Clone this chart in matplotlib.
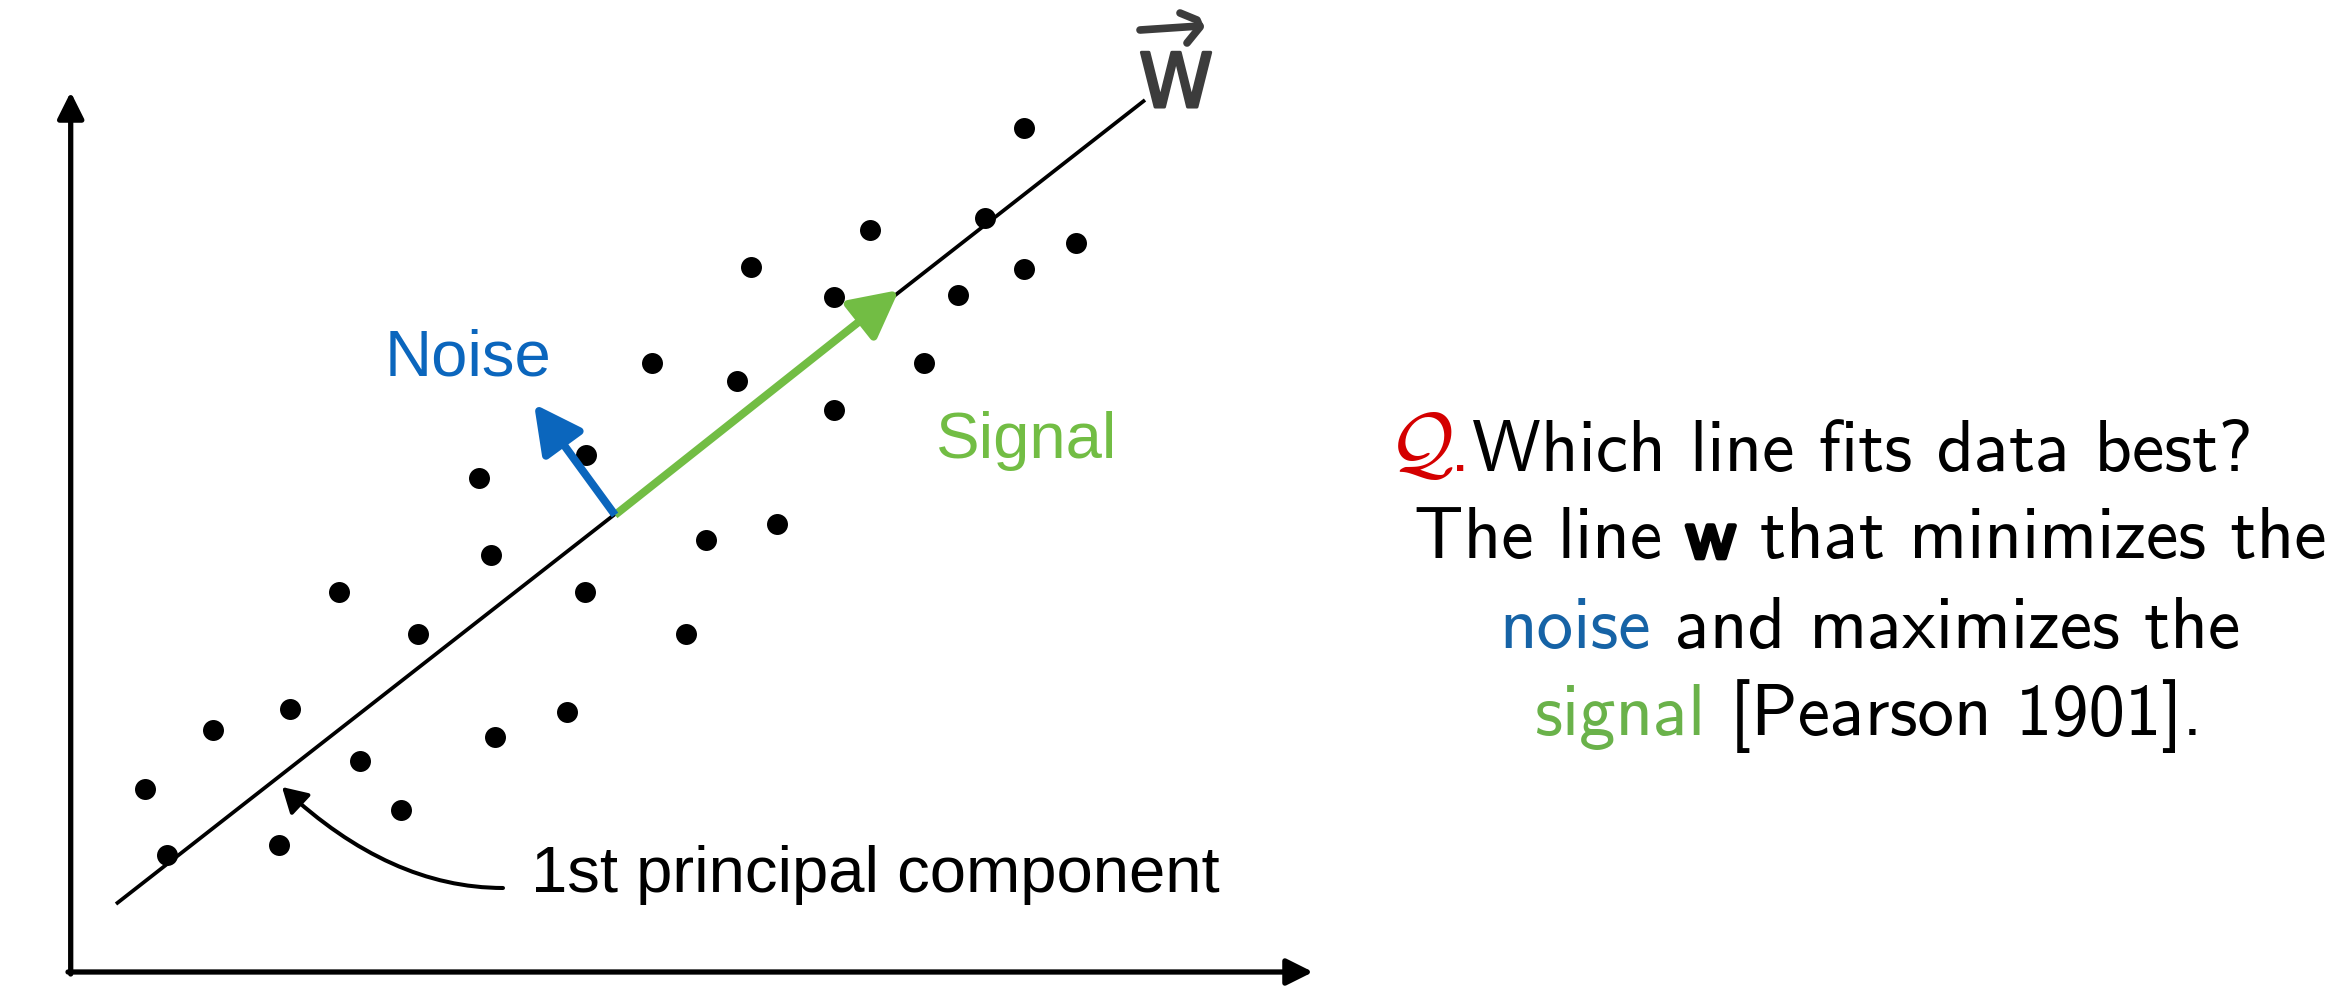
import matplotlib
matplotlib.use("Agg")
import matplotlib.pyplot as plt
from matplotlib.patches import FancyArrowPatch
from matplotlib.path import Path
import matplotlib.patheffects as pe

plt.rcParams['mathtext.fontset'] = 'cm'

# ---------------- data (image-pixel coordinates, y down) ----------------
pts_x = [1024, 870, 985, 1076, 1024, 751, 834, 958, 652, 737, 924, 834, 586, 479, 491,
         706, 777, 339, 585, 418, 686, 213, 290, 495, 567, 360, 145, 401, 167, 279]
pts_y = [128, 230, 218, 243, 269, 267, 297, 295, 363, 381, 363, 410, 455, 478, 555,
         540, 524, 592, 592, 634, 634, 730, 709, 737, 712, 761, 789, 810, 855, 845]

pc_x = [116, 1145]          # 1st principal component line ends
pc_y = [904, 100]

origin = (615, 515)         # common start of signal / noise arrows
signal_tip = (899, 290)
noise_tip = (534, 404)

labels = ["Noise", "Signal", "1st principal component"]
label_pos = [(385, 376), (936, 458), (531, 892)]

q_lines = [
    [("Which line fits data best?", "k", False)],
    [("The line", "k", False), ("w", "k", True), ("that minimizes the", "k", False)],
    [("noise", "#1663a6", False), ("and maximizes the", "k", False)],
    [("signal", "#6ab24a", False), ("[Pearson 1901].", "k", False)],
]
q_centers = [1862, 1870, 1870, 1868]
q_baselines = [471, 558, 648, 735]

# ---------------- figure ----------------
W, H = 2340, 1000
fig = plt.figure(figsize=(W / 100, H / 100), dpi=100)
ax = fig.add_axes([0, 0, 1, 1])
ax.set_xlim(0, W)
ax.set_ylim(H, 0)
ax.axis("off")

# axes arrows
axis_kw = dict(arrowstyle="-|>,head_length=16,head_width=8", mutation_scale=1,
               lw=3.8, color="black", shrinkA=0, shrinkB=0)
ax.add_patch(FancyArrowPatch((70.7, 974), (70.7, 92), **axis_kw))
ax.add_patch(FancyArrowPatch((68, 972), (1313, 972), **axis_kw))

# principal component line
ax.plot(pc_x, pc_y, color="black", lw=2.7, solid_capstyle="butt", zorder=2)

# points
ax.scatter(pts_x, pts_y, s=228, color="black", linewidths=0, zorder=3)

# signal / noise arrows
arr_style = "-|>,head_length=29,head_width=15"
ax.add_patch(FancyArrowPatch(origin, signal_tip, arrowstyle=arr_style,
                             mutation_scale=1, lw=5.7, color="#72bd44",
                             shrinkA=0, shrinkB=0, zorder=4, capstyle="butt"))
ax.add_patch(FancyArrowPatch(origin, noise_tip, arrowstyle=arr_style,
                             mutation_scale=1, lw=5.7, color="#0b66bd",
                             shrinkA=0, shrinkB=0, zorder=4, capstyle="butt"))

label_colors = ["#0b66bd", "#72bd44", "black"]
for txt, (x, y), c in zip(labels, label_pos, label_colors):
    ax.text(x, y, txt, fontsize=47, family="Liberation Sans", color=c,
            ha="left", va="baseline")

# curved arrow to the principal component
curve = Path([(503, 888), (390, 888), (282, 787)],
             [Path.MOVETO, Path.CURVE3, Path.CURVE3])
ax.add_patch(FancyArrowPatch(path=curve, arrowstyle="-|>,head_length=15,head_width=8.7",
                             mutation_scale=1, lw=2.9, color="black"))

# hand-drawn looking vector w
wcol = "#3c3c3c"
tw_ = ax.text(1176, 107, "W", fontsize=54, family=["Liberation Sans Narrow", "DejaVu Sans"],
              color=wcol, ha="center", va="baseline")
tw_.set_path_effects([pe.withStroke(linewidth=2.2, foreground=wcol)])
ax.plot([1140, 1200], [30, 26], color=wcol, lw=5.5, solid_capstyle="round")
ax.plot([1180, 1197, 1200, 1187], [13, 20, 27, 43], color=wcol, lw=5.5,
        solid_capstyle="round", solid_joinstyle="round")

# ---------------- right-hand question text ----------------
FS = 52.5
renderer = fig.canvas.get_renderer()


def tw(s):
    t = ax.text(0, 0, s, fontsize=FS, family="cmss10")
    w = t.get_window_extent(renderer).width
    t.remove()
    return w


space = tw("a a") - tw("aa")

for pieces, cx, yb in zip(q_lines, q_centers, q_baselines):
    texts = []
    for s, c, bold in pieces:
        t = ax.text(0, yb, s, fontsize=FS, family="cmss10", color=c,
                    ha="left", va="baseline")
        if bold:
            t.set_path_effects([pe.withStroke(linewidth=3.4, foreground=c)])
        texts.append(t)
    widths = [t.get_window_extent(renderer).width for t in texts]
    total = sum(widths) + space * (len(texts) - 1)
    x = cx - total / 2
    for t, w in zip(texts, widths):
        t.set_x(x)
        x += w + space

# red "Q."
ax.text(1388, 469, r"$\mathcal{Q}$", fontsize=58, color="#d40000",
        ha="left", va="baseline")
ax.text(1450, 471, ".", fontsize=FS, family="cmss10", color="#d40000",
        ha="left", va="baseline")

fig.savefig("out.png", dpi=100, facecolor="white")
